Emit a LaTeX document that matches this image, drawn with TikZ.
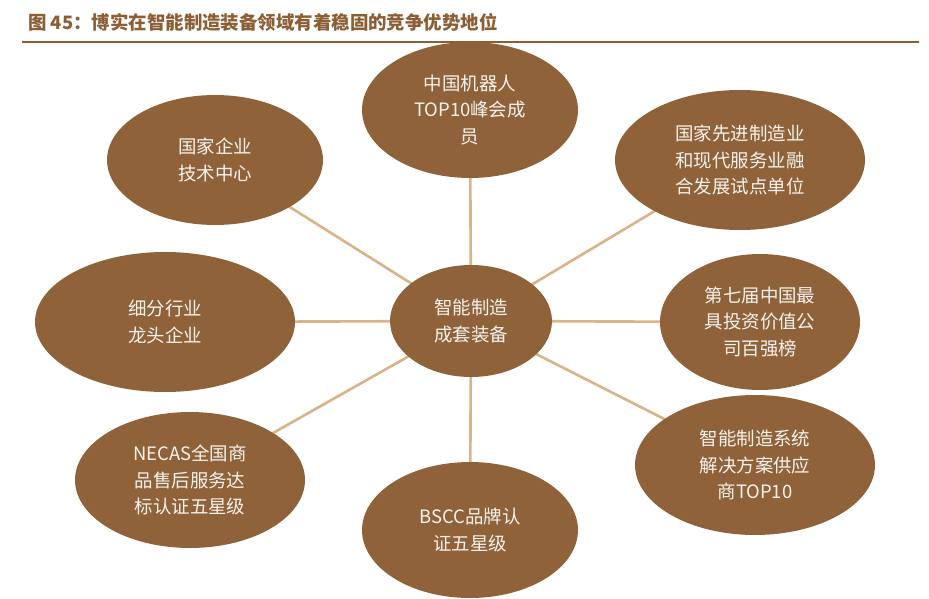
\documentclass[tikz,border=0pt]{standalone}
\usepackage{fontspec}
\setmainfont{Noto Sans CJK SC}
\usetikzlibrary{shapes.geometric}
\definecolor{bubble}{HTML}{8F6239}
\definecolor{spoke}{HTML}{D9B48A}
\definecolor{titlebrown}{HTML}{8B5E34}
\tikzset{
  hub/.style={ellipse,fill=bubble,text=white!92!bubble,align=center,
    font=\fontsize{10.5}{15}\selectfont,inner sep=0pt},
  link/.style={spoke,line width=1.5pt}
}
\begin{document}
\begin{tikzpicture}[x=0.02cm,y=-0.02cm]
\useasboundingbox (0,0) rectangle (929,598);
\node[anchor=west,text=titlebrown,font=\fontsize{10.5}{12}\selectfont\bfseries] (title) at (22,22) {图 45：博实在智能制造装备领域有着稳固的竞争优势地位};
\draw[titlebrown,line width=0.8pt] (22,42) -- (919,42);
% spokes first, bubbles on top
\coordinate (c) at (471,321);
\foreach \x/\y in {470/110, 215/160, 740/160, 165/322, 760/322, 190/480, 470/530, 755/465}
  \draw[link] (c) -- (\x,\y);
\node[hub,minimum width=162\pgflinewidth,minimum width=3.24cm,minimum height=2.24cm] (core) at (c) {智能制造\\成套装备};
\node[hub,minimum width=4.32cm,minimum height=2.72cm] (robot) at (470,110) {中国机器人\\TOP10峰会成\\员};
\node[hub,minimum width=4.32cm,minimum height=2.6cm] (tech) at (215,160) {国家企业\\技术中心};
\node[hub,minimum width=5cm,minimum height=2.8cm] (pilot) at (740,160) {国家先进制造业\\和现代服务业融\\合发展试点单位};
\node[hub,minimum width=5.2cm,minimum height=2.8cm] (lead) at (165,322) {细分行业\\龙头企业};
\node[hub,minimum width=4cm,minimum height=2.72cm] (invest) at (760,322) {第七届中国最\\具投资价值公\\司百强榜};
\node[hub,minimum width=4.6cm,minimum height=2.72cm] (necas) at (190,480) {NECAS全国商\\品售后服务达\\标认证五星级};
\node[hub,minimum width=4.32cm,minimum height=2.72cm] (bscc) at (470,530) {BSCC品牌认\\证五星级};
\node[hub,minimum width=4.8cm,minimum height=2.8cm] (supply) at (755,465) {智能制造系统\\解决方案供应\\商TOP10};
\end{tikzpicture}
\end{document}
